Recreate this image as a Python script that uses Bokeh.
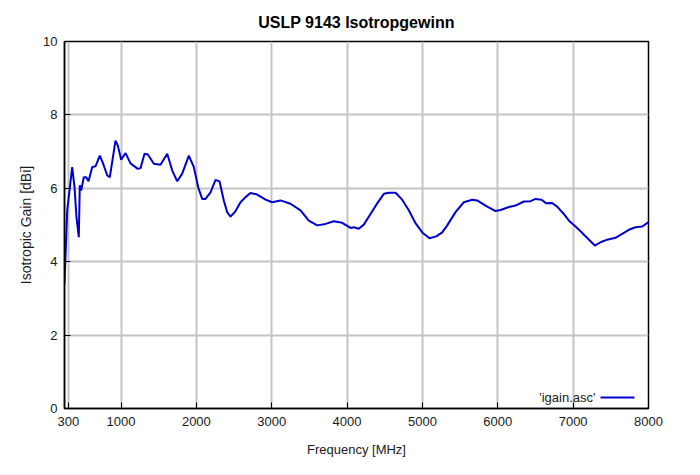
from bokeh.plotting import figure
from bokeh.models import FixedTicker, Label, BoxAnnotation, ColumnDataSource
from bokeh.embed import file_html
from bokeh.resources import INLINE

# Data
freq = [250, 286, 352, 383, 409, 440, 453, 471, 506, 538,
        569, 618, 661, 719, 763, 817, 851, 927, 957, 1002,
        1060, 1126, 1223, 1259, 1312, 1356, 1436, 1524, 1613, 1679,
        1746, 1812, 1900, 1966, 2024, 2077, 2121, 2188, 2254, 2307,
        2364, 2409, 2453, 2510, 2586, 2652, 2718, 2807, 2918, 3006,
        3117, 3249, 3382, 3492, 3604, 3714, 3824, 3935, 4046, 4089,
        4156, 4222, 4311, 4400, 4488, 4554, 4643, 4731, 4819, 4908,
        5005, 5094, 5183, 5263, 5329, 5439, 5549, 5661, 5727, 5837,
        5970, 6036, 6147, 6235, 6346, 6434, 6501, 6581, 6643, 6722,
        6788, 6876, 6952, 7032, 7098, 7200, 7288, 7363, 7452, 7562,
        7651, 7739, 7828, 7917, 8000]
gain = [3.40, 5.40, 6.58, 6.03, 5.21, 4.67, 6.08, 5.94, 6.30, 6.30,
        6.19, 6.58, 6.60, 6.89, 6.67, 6.35, 6.30, 7.30, 7.17, 6.78,
        6.96, 6.68, 6.53, 6.55, 6.94, 6.92, 6.67, 6.64, 6.94, 6.49,
        6.19, 6.40, 6.89, 6.58, 6.03, 5.71, 5.71, 5.89, 6.23, 6.19,
        5.67, 5.35, 5.23, 5.35, 5.62, 5.76, 5.87, 5.83, 5.69, 5.62,
        5.67, 5.58, 5.40, 5.12, 4.99, 5.03, 5.10, 5.06, 4.92, 4.94,
        4.90, 5.01, 5.30, 5.59, 5.85, 5.88, 5.88, 5.69, 5.40, 5.05,
        4.78, 4.64, 4.69, 4.80, 4.99, 5.35, 5.62, 5.69, 5.67, 5.53,
        5.38, 5.41, 5.49, 5.53, 5.64, 5.65, 5.71, 5.69, 5.59, 5.60,
        5.50, 5.30, 5.10, 4.96, 4.83, 4.62, 4.44, 4.53, 4.60, 4.65,
        4.76, 4.87, 4.94, 4.96, 5.08]

x_ticks = [300, 1000, 2000, 3000, 4000, 5000, 6000, 7000, 8000]
y_ticks = [0, 2, 4, 6, 8, 10]

title_text = "USLP 9143 Isotropgewinn"
x_label = "Frequency [MHz]"
y_label = "Isotropic Gain [dBi]"
legend_label = "'igain.asc'"

FONT = "Liberation Sans"
LINE_COLOR = "#0000cc"
TEXT_COLOR = "#1a1a1a"

p = figure(width=684, height=459, x_range=(250, 8000), y_range=(0, 10),
           output_backend="svg", toolbar_location=None,
           min_border_left=64, min_border_right=36,
           min_border_top=41, min_border_bottom=51,
           title=title_text)

p.title.align = "center"
p.title.text_font = FONT
p.title.text_font_size = "16px"
p.title.text_font_style = "bold"
p.title.text_color = "black"
p.title.standoff = 22

p.outline_line_color = "black"
p.outline_line_width = 1.5
p.background_fill_color = "white"
p.border_fill_color = "white"

for ax in (p.xaxis[0], p.yaxis[0]):
    ax.axis_line_color = "black"
    ax.axis_line_width = 1.5
    ax.major_tick_in = 6
    ax.major_tick_out = 0
    ax.major_tick_line_color = "black"
    ax.minor_tick_line_color = None
    ax.major_label_text_font = FONT
    ax.major_label_text_font_size = "13px"
    ax.major_label_text_color = TEXT_COLOR
    ax.axis_label_text_font = FONT
    ax.axis_label_text_font_style = "normal"
    ax.axis_label_text_color = TEXT_COLOR

p.xaxis.ticker = FixedTicker(ticks=x_ticks)
p.yaxis.ticker = FixedTicker(ticks=y_ticks)
p.xaxis.axis_label = x_label
p.yaxis.axis_label = y_label
p.xaxis.axis_label_text_font_size = "13px"
p.yaxis.axis_label_text_font_size = "14px"
p.xaxis.major_label_standoff = 8
p.yaxis.major_label_standoff = 7
p.xaxis.axis_label_standoff = 13
p.yaxis.axis_label_standoff = 6

p.xgrid.ticker = FixedTicker(ticks=x_ticks)
p.ygrid.ticker = FixedTicker(ticks=y_ticks)
for g in (p.xgrid[0], p.ygrid[0]):
    g.grid_line_color = "#c4c4c4"
    g.grid_line_width = 2

src = ColumnDataSource(data=dict(freq=freq, gain=gain))
p.line("freq", "gain", source=src, line_color=LINE_COLOR, line_width=2)

# legend (text left of sample line, as in the reference)
p.add_layout(Label(x=531, y=11, x_units="screen", y_units="screen",
                   text=legend_label, text_align="right", text_baseline="middle",
                   text_font=FONT, text_font_size="13px", text_color=TEXT_COLOR))
p.add_layout(BoxAnnotation(left=536, right=570, bottom=10, top=12,
                           left_units="screen", right_units="screen",
                           bottom_units="screen", top_units="screen",
                           fill_color=LINE_COLOR, fill_alpha=1.0,
                           line_color=None))

open("out.html", "w").write(file_html(p, INLINE))
